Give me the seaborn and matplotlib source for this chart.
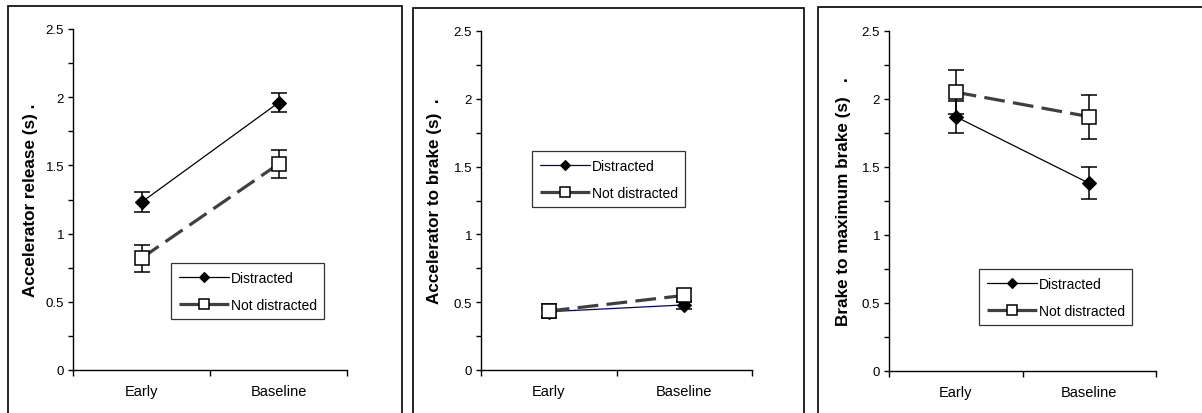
import matplotlib
matplotlib.use("Agg")
import matplotlib.pyplot as plt
import seaborn as sns
import pandas as pd
from matplotlib.patches import Rectangle
from matplotlib.ticker import FixedLocator, FuncFormatter, MultipleLocator

sns.set_theme(style="white")
plt.rcParams['font.family'] = ['Liberation Sans', 'DejaVu Sans']

categories = ["Early", "Baseline"]
series_names = ["Distracted", "Not distracted"]

ylabels = ["Accelerator release (s) .", "Accelerator to brake (s)  .", "Brake to maximum brake (s)   ."]

# panel 1
p1_distracted = [1.23, 1.96]
p1_distracted_err = [0.072, 0.072]
p1_not = [0.82, 1.51]
p1_not_err = [0.10, 0.10]
# panel 2
p2_distracted = [0.43, 0.48]
p2_distracted_err = [0.03, 0.03]
p2_not = [0.435, 0.55]
p2_not_err = [0.055, 0.045]
# panel 3
p3_distracted = [1.87, 1.38]
p3_distracted_err = [0.117, 0.117]
p3_not = [2.05, 1.87]
p3_not_err = [0.162, 0.163]

panels = [
    (p1_distracted, p1_distracted_err, p1_not, p1_not_err),
    (p2_distracted, p2_distracted_err, p2_not, p2_not_err),
    (p3_distracted, p3_distracted_err, p3_not, p3_not_err),
]

W, H = 1202, 414
fig = plt.figure(figsize=(W / 100, H / 100), dpi=100)

def fx(px):
    return px / W

def fy(py):
    return 1 - py / H

# axes boxes in pixels: (left, top, right, bottom)
axes_px = [(73, 30, 347, 371), (481, 32, 752, 371), (889, 32, 1156, 372)]
legend_px = [(171, 264), (532, 152), (979, 270)]
label_x = [-0.128, -0.145, -0.142]
border_px = [(8, 7, 402), (413, 9, 804), (818, 8, 1215)]
distracted_colors = ["black", "#000080", "black"]

for (bl, bt, br) in border_px:
    fig.patches.append(Rectangle((fx(bl), -0.05), fx(br) - fx(bl), fy(bt) + 0.05,
                                 transform=fig.transFigure, fill=False,
                                 edgecolor="black", linewidth=1.2))

for i, (d, de, n, ne) in enumerate(panels):
    l, t, r, b = axes_px[i]
    ax = fig.add_axes([fx(l), fy(b), fx(r) - fx(l), fy(t) - fy(b)])
    ax.set_facecolor("none")
    xs = list(range(len(categories)))

    # error bars
    ax.errorbar(xs, d, yerr=de, fmt="none", ecolor="black", elinewidth=1.1,
                capsize=6, capthick=1.1, zorder=2)
    ax.errorbar(xs, n, yerr=ne, fmt="none", ecolor="black", elinewidth=1.1,
                capsize=6, capthick=1.1, zorder=2)

    df_d = pd.DataFrame({"x": xs, "y": d})
    df_n = pd.DataFrame({"x": xs, "y": n})
    sns.lineplot(data=df_d, x="x", y="y", ax=ax, color=distracted_colors[i],
                 linewidth=0.9, marker="D", markersize=7.5,
                 markerfacecolor="black", markeredgecolor="black",
                 markeredgewidth=0.8, label=series_names[0], zorder=3)
    sns.lineplot(data=df_n, x="x", y="y", ax=ax, color="#404040",
                 linewidth=2.3, linestyle=(0, (6.5, 2.6)), marker="s",
                 markersize=9.5, markerfacecolor="white",
                 markeredgecolor="black", markeredgewidth=1.1,
                 label=series_names[1], zorder=4)

    ax.set_xlim(-0.5, 1.5)
    ax.set_ylim(0, 2.5)
    for s in ["top", "right"]:
        ax.spines[s].set_visible(False)
    for s in ["left", "bottom"]:
        ax.spines[s].set_color("black")
        ax.spines[s].set_linewidth(1.0)

    ax.xaxis.set_major_locator(FixedLocator([-0.5, 0.5, 1.5]))
    ax.xaxis.set_major_formatter(FuncFormatter(lambda v, p: ""))
    ax.xaxis.set_minor_locator(FixedLocator(xs))
    ax.set_xticks(xs, categories, minor=True)
    ax.tick_params(axis="x", which="major", direction="out", length=4,
                   width=1.0, color="black", bottom=True)
    ax.tick_params(axis="x", which="minor", length=0, pad=10,
                   labelsize=10.5, labelcolor="black", bottom=True)

    ax.yaxis.set_major_locator(FixedLocator([0, 0.5, 1, 1.5, 2, 2.5]))
    ax.yaxis.set_major_formatter(FuncFormatter(lambda v, p: f"{v:g}"))
    ax.yaxis.set_minor_locator(MultipleLocator(0.25))
    ax.tick_params(axis="y", which="both", direction="out", length=3.5,
                   width=1.0, color="black", left=True, pad=3,
                   labelsize=9.5, labelcolor="black")

    ax.set_xlabel("")
    ax.set_ylabel(ylabels[i], fontsize=12.3, fontweight="bold", color="black")
    ax.yaxis.set_label_coords(label_x[i], 0.5)

    lx, ly = legend_px[i]
    leg = ax.legend(loc="upper left", bbox_to_anchor=(fx(lx), fy(ly)),
                    bbox_transform=fig.transFigure, borderaxespad=0,
                    fontsize=10, frameon=True, fancybox=False, shadow=False,
                    handlelength=3.6, handletextpad=0.15, borderpad=0.55,
                    labelspacing=0.95, markerscale=0.7)
    leg.get_frame().set_edgecolor("black")
    leg.get_frame().set_linewidth(0.9)
    leg.get_frame().set_facecolor("white")
    for txt in leg.get_texts():
        txt.set_color("black")

fig.savefig("out.png", dpi=100, facecolor="white")
